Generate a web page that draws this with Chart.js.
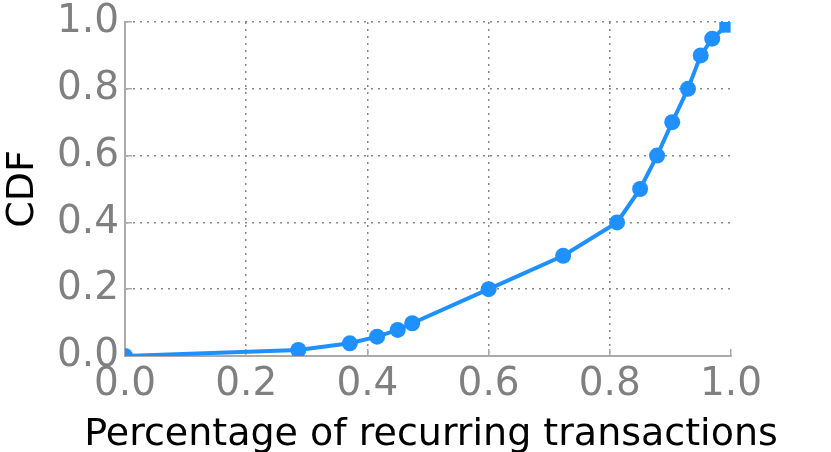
<!DOCTYPE html>
<html>
<head>
<meta charset="utf-8">
<script src="https://cdn.jsdelivr.net/npm/chart.js@4"></script>
<style>
  html, body { margin: 0; padding: 0; background: #fff; }
  #wrap { width: 831px; height: 452px; }
</style>
</head>
<body>
<div id="wrap"><canvas id="cdfChart" width="831" height="452"></canvas></div>
<script>
// CDF of recurring-transaction share
const xValues = [0.0, 0.286, 0.371, 0.416, 0.45, 0.474, 0.6, 0.723, 0.812, 0.85, 0.878, 0.903, 0.929, 0.95, 0.969, 0.99]
const cdfValues = [0.0, 0.018, 0.038, 0.058, 0.078, 0.098, 0.2, 0.3, 0.4, 0.5, 0.6, 0.7, 0.8, 0.9, 0.95, 0.985]
const tickValues = [0.0, 0.2, 0.4, 0.6, 0.8, 1.0]
const xTitle = 'Percentage of recurring transactions'
const yTitle = 'CDF'

const blue = '#1e90ff'
const tickGray = '#808080'
const fontFamily = '"DejaVu Sans", sans-serif'

const points = xValues.map((x, i) => ({ x: x, y: cdfValues[i] }))
const styles = xValues.map((x, i) => (i === xValues.length - 1 ? 'rect' : 'circle'))

// the built-in x title gets squeezed to the axis width, so draw it here
const xTitlePlugin = {
  id: 'xTitle',
  afterDraw(chart) {
    const c = chart.ctx
    c.save()
    c.font = '38px ' + fontFamily
    c.fillStyle = '#000'
    c.textAlign = 'center'
    c.textBaseline = 'alphabetic'
    c.fillText(xTitle, 431, 445)
    c.restore()
  },
}

const ctx = document.getElementById('cdfChart').getContext('2d')
const chart = new Chart(ctx, {
  type: 'line',
  data: {
    datasets: [
      {
        data: points,
        borderColor: blue,
        backgroundColor: blue,
        borderWidth: 4,
        pointRadius: 8,
        pointStyle: styles,
        pointBorderWidth: 0,
        tension: 0,
        fill: false,
        clip: 0,
      },
    ],
  },
  plugins: [xTitlePlugin],
  options: {
    responsive: false,
    animation: false,
    layout: {
      padding: { top: 22, right: 100, bottom: 0, left: 0 },
    },
    plugins: {
      legend: { display: false },
      tooltip: { enabled: false },
    },
    scales: {
      x: {
        type: 'linear',
        min: 0,
        max: 1,
        afterBuildTicks: (s) => { s.ticks = tickValues.map((v) => ({ value: v })) },
        afterFit: (s) => { s.height = 96; s.paddingLeft = 0; s.paddingRight = 0 },
        ticks: {
          color: tickGray,
          font: { family: fontFamily, size: 39 },
          padding: 12,
          maxRotation: 0,
          callback: (v) => v.toFixed(1),
        },
        grid: {
          drawTicks: true,
          tickLength: -7,
          tickColor: '#aaaaaa',
          tickWidth: 1.5,
          tickBorderDash: [],
          color: (c) => (c.tick && (c.tick.value === 0 || c.tick.value === 1) ? 'rgba(0,0,0,0)' : '#888888'),
          lineWidth: 1.5,
        },
        border: { display: true, color: '#aaaaaa', width: 2, dash: [2, 5] },
        title: { display: false },
      },
      y: {
        type: 'linear',
        min: 0,
        max: 1,
        afterBuildTicks: (s) => { s.ticks = tickValues.map((v) => ({ value: v })) },
        afterFit: (s) => { s.width = 125; s.paddingTop = 0; s.paddingBottom = 0 },
        ticks: {
          color: tickGray,
          font: { family: fontFamily, size: 39 },
          padding: 13,
          callback: (v) => v.toFixed(1),
        },
        grid: {
          drawTicks: true,
          tickLength: -7,
          tickColor: '#aaaaaa',
          tickWidth: 1.5,
          tickBorderDash: [],
          color: (c) => (c.tick && c.tick.value === 0 ? 'rgba(0,0,0,0)' : '#888888'),
          lineWidth: 1.5,
        },
        border: { display: true, color: '#aaaaaa', width: 2, dash: [2, 5] },
        title: {
          display: true,
          text: yTitle,
          color: '#000',
          font: { family: fontFamily, size: 38 },
          padding: { top: 0, bottom: 0 },
        },
      },
    },
  },
})
</script>
</body>
</html>
